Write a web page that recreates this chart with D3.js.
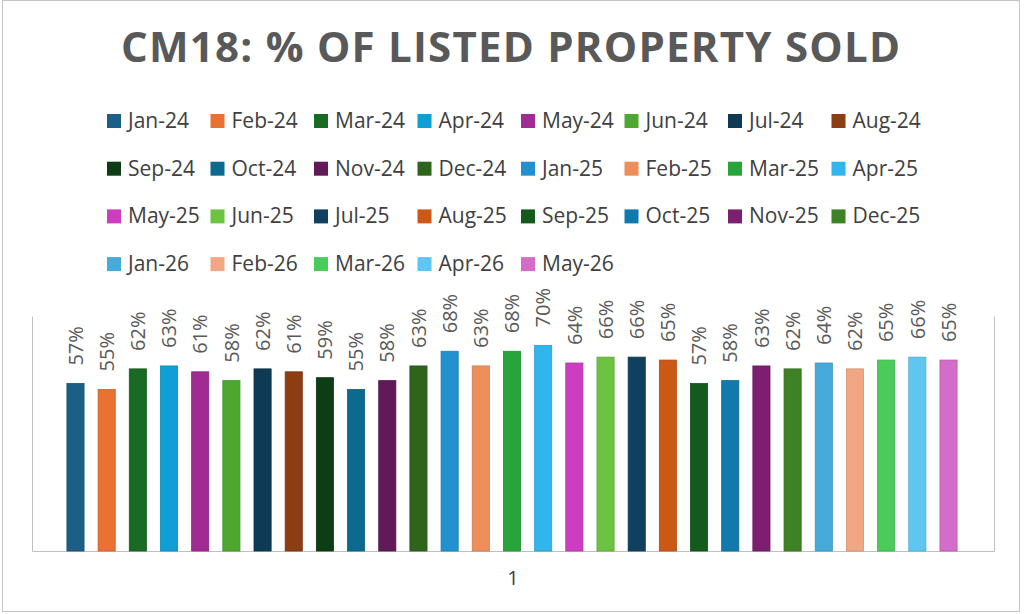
<!DOCTYPE html>
<html>
<head>
<meta charset="utf-8">
<script src="https://cdn.jsdelivr.net/npm/d3@7"></script>
<style>
  body { margin: 0; background: #fff; }
  svg { display: block; font-family: "Open Sans", "Noto Sans", sans-serif; }
  .axis path { stroke: #bfbfbf; }
  .axis text { fill: #404040; }
</style>
</head>
<body>
<div id="chart"></div>
<script>
// Chart data.
var categories = ["1"];
var months = ["Jan-24","Feb-24","Mar-24","Apr-24","May-24","Jun-24","Jul-24","Aug-24","Sep-24","Oct-24","Nov-24","Dec-24",
              "Jan-25","Feb-25","Mar-25","Apr-25","May-25","Jun-25","Jul-25","Aug-25","Sep-25","Oct-25","Nov-25","Dec-25",
              "Jan-26","Feb-26","Mar-26","Apr-26","May-26"];
var soldPct = [57,55,62,63,61,58,62,61,59,55,58,63,
               68,63,68,70,64,66,66,65,57,58,63,62,
               64,62,65,66,65];
var colors = ["#1b5f86","#e97132","#196b24","#0f9ed5","#a02b93","#4ea72e","#0e3a55","#8c3e12","#0d3d14","#0c6a90","#601a58","#2f641c",
              "#2191cf","#ee8e5a","#27a53a","#31b5ec","#cc3dbf","#6cc341","#10405f","#cc5816","#145a1d","#0f7aab","#7d1f71","#3f8226",
              "#46aada","#f2a784","#4bcc5a","#5fc6f2","#d46cc9"];
var yMax = 80;

var svgWidth = 1024;
var svgHeight = 614;
var plot = {left: 32, right: 994, top: 316, bottom: 551};

var svg = d3.select("#chart").append("svg").attr("width", svgWidth).attr("height", svgHeight);

// Outer chart border.
svg.append("rect").attr("x", 2.5).attr("y", 0.5).attr("width", 1017).attr("height", 611)
    .attr("fill", "#fff").attr("stroke", "#c4c4c4");

// Title.
svg.append("text")
    .attr("x", 121).attr("y", 62)
    .attr("textLength", 779).attr("lengthAdjust", "spacing")
    .attr("font-size", "42px").attr("font-weight", "bold").attr("fill", "#595959")
    .text("CM18: % OF LISTED PROPERTY SOLD");

// Legend: 8 columns, rows ~48px apart.
var legend = svg.append("g");
var legendItems = legend.selectAll("g").data(months).enter().append("g")
    .attr("transform", (d, i) => `translate(${107 + (i % 8) * 103.5},${128 + Math.floor(i / 8) * 47.7})`);
legendItems.append("rect").attr("x", 0).attr("y", -14).attr("width", 14).attr("height", 14)
    .attr("fill", (d, i) => colors[i]);
legendItems.append("text").attr("x", 21).attr("y", 0)
    .attr("font-size", "21px").attr("fill", "#404040").text(d => d);

// Scales.
var xOuter = d3.scaleBand().domain(categories).range([plot.left, plot.right]);
var xInner = d3.scaleBand().domain(months).range([59.9, 964.1]).paddingInner(0.45).paddingOuter(0.225);
var yScale = d3.scaleLinear().domain([0, yMax]).range([plot.bottom, plot.top]);

// Axes (lines only, plus the single category label).
svg.append("g").classed("axis", true)
    .attr("transform", `translate(0,${plot.bottom})`)
    .call(d3.axisBottom(xOuter).tickSize(0).tickSizeOuter(0).tickPadding(20))
    .selectAll("text").attr("font-size", "20px").attr("font-family", "Open Sans");
svg.append("g").classed("axis", true)
    .attr("transform", `translate(${plot.left},0)`)
    .call(d3.axisLeft(yScale).tickValues([]).tickSizeOuter(0));
svg.append("g").classed("axis", true)
    .attr("transform", `translate(${plot.right},0)`)
    .call(d3.axisRight(yScale).tickValues([]).tickSizeOuter(0));

// Bars.
svg.append("g").selectAll("rect").data(soldPct).enter().append("rect")
    .attr("x", (d, i) => xInner(months[i]))
    .attr("y", d => yScale(d))
    .attr("width", xInner.bandwidth())
    .attr("height", d => plot.bottom - yScale(d))
    .attr("fill", (d, i) => colors[i])
    .attr("stroke", (d, i) => d3.color(colors[i]).darker(0.4))
    .attr("stroke-width", 0.8);

// Rotated value labels above the bars.
svg.append("g").selectAll("text").data(soldPct).enter().append("text")
    .attr("transform", (d, i) => `translate(${xInner(months[i]) + xInner.bandwidth() / 2},${yScale(d) - 18}) rotate(-90)`)
    .attr("dy", "0.36em")
    .attr("font-size", "20px").attr("fill", "#595959")
    .text(d => d + "%");
</script>
</body>
</html>
